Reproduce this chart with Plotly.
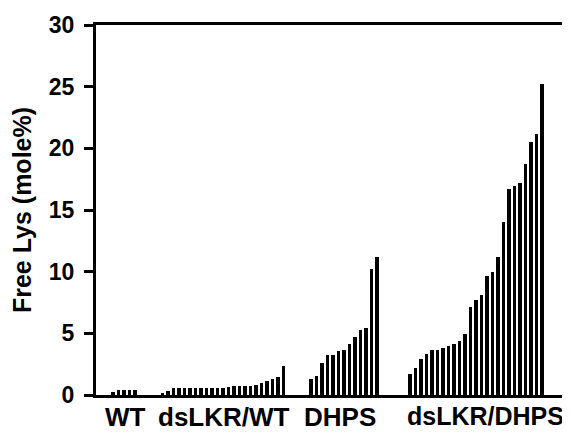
import plotly.graph_objects as go

# ---- data ----
group_names = ["WT", "dsLKR/WT", "DHPS", "dsLKR/DHPS"]
wt = [0.25, 0.4, 0.4, 0.4, 0.4]
dslkr_wt = [0.1, 0.3, 0.55, 0.6, 0.6, 0.6, 0.6, 0.6, 0.6, 0.6, 0.6, 0.6,
            0.65, 0.75, 0.75, 0.75, 0.75, 0.8, 0.95, 1.15, 1.3, 1.45, 2.35]
dhps = [1.27, 1.54, 2.57, 3.22, 3.22, 3.6, 3.66, 4.12, 4.69, 5.28, 5.42,
        10.24, 11.2]
dslkr_dhps = [1.7, 2.17, 2.9, 3.33, 3.66, 3.66, 3.82, 3.98, 4.12, 4.39, 4.96,
              7.13, 7.72, 8.13, 9.67, 9.97, 11.17, 14.04, 16.72, 16.94, 17.15,
              18.7, 20.5, 21.2, 25.23]
groups = [wt, dslkr_wt, dhps, dslkr_dhps]
gap_slots = [4, 4, 5]          # empty slots between consecutive groups
y_ticks = [0, 5, 10, 15, 20, 25, 30]

# ---- build positions from group structure ----
xs, ys, centers = [], [], []
pos = 0
for gi, g in enumerate(groups):
    start = pos
    for v in g:
        xs.append(pos)
        ys.append(v)
        pos += 1
    centers.append((start + pos - 1) / 2)
    if gi < len(gap_slots):
        pos += gap_slots[gi]

font_family = "Liberation Sans, Arial, sans-serif"

fig = go.Figure(go.Bar(x=xs, y=ys, width=0.6, marker=dict(color="black", line=dict(width=0))))

label_shift = [1, 1, -4, 9]
label_size = [26, 26, 26, 25]
for c, name, sh, sz in zip(centers, group_names, label_shift, label_size):
    fig.add_annotation(x=c, y=0, xref="x", yref="y", text=name, showarrow=False,
                       yanchor="top", yshift=-5, xshift=sh,
                       font=dict(family=font_family, size=sz, color="black", weight="bold"))

fig.update_layout(
    width=562, height=426,
    margin=dict(l=88, r=3, t=17, b=39),
    paper_bgcolor="white", plot_bgcolor="white",
    showlegend=False,
    bargap=0,
)
fig.update_xaxes(range=[-3.1, 82.0], showticklabels=False, ticks="", showgrid=False,
                 zeroline=False, showline=True, linecolor="black", linewidth=3, mirror=True)
fig.update_yaxes(range=[0, 30], tickvals=y_ticks, ticks="outside", ticklen=9, tickwidth=3,
                 tickcolor="black", showgrid=False, zeroline=False,
                 showline=True, linecolor="black", linewidth=3, mirror=True,
                 ticklabelstandoff=5,
                 tickfont=dict(family=font_family, size=23, color="black", weight="bold"),
                 title=dict(text="Free Lys (mole%)", standoff=16,
                            font=dict(family=font_family, size=25, color="black", weight="bold")))

fig.write_html("out.html")
